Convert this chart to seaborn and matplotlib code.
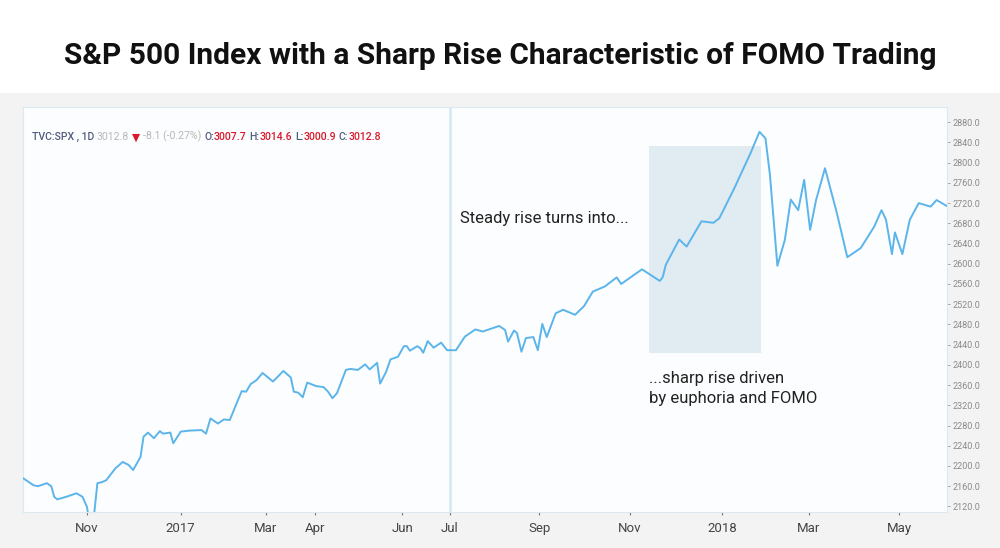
import matplotlib.pyplot as plt
import pandas as pd
import seaborn as sns
from matplotlib.patches import Rectangle

# daily close of the S&P 500 (smoothed line)
dates = [
    "2016-09-19", "2016-09-26", "2016-09-29", "2016-10-05", "2016-10-08", "2016-10-10",
    "2016-10-12", "2016-10-18", "2016-10-25", "2016-10-29", "2016-11-01", "2016-11-02",
    "2016-11-04", "2016-11-06", "2016-11-08", "2016-11-11", "2016-11-14", "2016-11-20",
    "2016-11-25", "2016-11-29", "2016-12-02", "2016-12-07", "2016-12-09", "2016-12-12",
    "2016-12-16", "2016-12-20", "2016-12-22", "2016-12-27", "2016-12-29", "2017-01-03",
    "2017-01-09", "2017-01-17", "2017-01-20", "2017-01-23", "2017-01-28", "2017-02-01",
    "2017-02-05", "2017-02-10", "2017-02-13", "2017-02-16", "2017-02-19", "2017-02-23",
    "2017-02-27", "2017-03-06", "2017-03-13", "2017-03-18", "2017-03-20", "2017-03-23",
    "2017-03-26", "2017-03-29", "2017-04-04", "2017-04-09", "2017-04-12", "2017-04-15",
    "2017-04-18", "2017-04-24", "2017-04-27", "2017-05-02", "2017-05-07", "2017-05-10",
    "2017-05-15", "2017-05-17", "2017-05-21", "2017-05-24", "2017-05-29", "2017-06-02",
    "2017-06-04", "2017-06-06", "2017-06-11", "2017-06-13", "2017-06-15", "2017-06-18",
    "2017-06-22", "2017-06-27", "2017-07-01", "2017-07-07", "2017-07-13", "2017-07-20",
    "2017-07-25", "2017-08-05", "2017-08-09", "2017-08-11", "2017-08-15", "2017-08-17",
    "2017-08-20", "2017-08-23", "2017-08-28", "2017-08-31", "2017-09-03", "2017-09-06",
    "2017-09-12", "2017-09-17", "2017-09-25", "2017-10-01", "2017-10-07", "2017-10-15",
    "2017-10-23", "2017-10-26", "2017-11-09", "2017-11-21", "2017-11-23", "2017-11-25",
    "2017-12-04", "2017-12-09", "2017-12-19", "2017-12-27", "2017-12-31", "2018-01-10",
    "2018-01-21", "2018-01-27", "2018-01-31", "2018-02-03", "2018-02-08", "2018-02-13",
    "2018-02-17", "2018-02-22", "2018-02-26", "2018-03-02", "2018-03-06", "2018-03-12",
    "2018-03-20", "2018-03-27", "2018-04-05", "2018-04-14", "2018-04-19", "2018-04-22",
    "2018-04-26", "2018-04-28", "2018-05-03", "2018-05-08", "2018-05-14", "2018-05-22",
    "2018-05-26", "2018-06-02",
]
closes = [
    2176, 2162, 2160, 2166, 2160, 2139,
    2134, 2139, 2146, 2139, 2119, 2100,
    2085, 2110, 2166, 2168, 2172, 2195,
    2208, 2202, 2192, 2218, 2258, 2266,
    2255, 2269, 2264, 2266, 2245, 2268,
    2270, 2271, 2264, 2294, 2284, 2292,
    2291, 2327, 2348, 2347, 2362, 2370,
    2384, 2367, 2388, 2375, 2347, 2345,
    2336, 2365, 2358, 2356, 2347, 2334,
    2344, 2390, 2392, 2390, 2401, 2391,
    2404, 2363, 2386, 2411, 2416, 2437,
    2437, 2428, 2437, 2433, 2424, 2447,
    2434, 2444, 2429, 2429, 2456, 2470,
    2466, 2477, 2469, 2446, 2468, 2463,
    2426, 2453, 2455, 2429, 2481, 2455,
    2502, 2509, 2499, 2516, 2545, 2555,
    2573, 2560, 2589, 2566, 2574, 2598,
    2648, 2634, 2684, 2681, 2690, 2749,
    2819, 2861, 2848, 2776, 2596, 2647,
    2727, 2706, 2766, 2667, 2726, 2789,
    2700, 2613, 2631, 2673, 2706, 2687,
    2619, 2662, 2619, 2687, 2720, 2713,
    2726, 2714,
]

tick_dates = ["2016-11-01", "2017-01-03", "2017-03-01", "2017-04-03", "2017-06-01", "2017-07-03",
              "2017-09-01", "2017-11-01", "2018-01-02", "2018-03-01", "2018-05-01"]
tick_labels = ["Nov", "2017", "Mar", "Apr", "Jun", "Jul", "Sep", "Nov", "2018", "Mar", "May"]
price_ticks = list(range(2120, 2881, 40))

# FOMO window (shaded box)
fomo_start, fomo_end = "2017-11-14", "2018-01-28"
fomo_low, fomo_high = 2423, 2832
crosshair_date = "2017-07-03"

df = pd.DataFrame({"date": pd.to_datetime(dates), "close": closes})

sns.set_style("white")
plt.rcParams["font.family"] = ["Roboto", "DejaVu Sans"]

fig = plt.figure(figsize=(10, 5.48), dpi=100, facecolor="white")
fig.patches.append(Rectangle((0, 0), 1, 0.83, transform=fig.transFigure,
                             facecolor="#f3f3f3", edgecolor="none", zorder=-10))
ax = fig.add_axes([0.023, 0.0657, 0.924, 0.739])
ax.set_facecolor("#fcfdfe")

# shaded FOMO box and crosshair
ax.fill_between(pd.to_datetime([fomo_start, fomo_end]), fomo_low, fomo_high,
                color="#e0ebf2", lw=0, zorder=1)
ax.axvline(pd.to_datetime(crosshair_date), color="#d5e7f2", lw=1.8, zorder=1)

sns.lineplot(data=df, x="date", y="close", ax=ax, color="#5cb5ea", lw=1.4,
             estimator=None, zorder=3, solid_joinstyle="round")

ax.set_xlim(pd.Timestamp("2016-09-19"), pd.Timestamp("2018-06-02"))
ax.set_ylim(2109, 2910)
ax.set_xlabel("")
ax.set_ylabel("")

ax.yaxis.tick_right()
ax.set_yticks(price_ticks)
ax.set_yticklabels([f"{v:.1f}" for v in price_ticks])
ax.tick_params(axis="y", right=True, left=False, length=2, width=0.6, color="#999",
               labelsize=6.5, labelcolor="#8a8a8a", pad=2)

ax.set_xticks(pd.to_datetime(tick_dates))
ax.set_xticklabels(tick_labels)
ax.tick_params(axis="x", bottom=True, length=2.5, width=0.8, color="#777",
               labelsize=9.5, labelcolor="#444", pad=5)

for s in ax.spines.values():
    s.set_color("#dde9f1")
    s.set_linewidth(0.8)

# annotations
ax.text(pd.Timestamp("2017-07-10"), 2689, "Steady rise turns into...",
        fontsize=12, color="#222", va="center", ha="left")
ax.text(pd.Timestamp(fomo_start), 2387, "...sharp rise driven\nby euphoria and FOMO",
        fontsize=12, color="#222", va="top", ha="left", linespacing=1.4)

# TradingView style header
slate, light, red = "#4f5d7c", "#b8b8b8", "#d7192b"
parts = [("TVC:SPX , 1D", slate), ("3012.8", light), ("▼", red), ("-8.1 (-0.27%)", light),
         ("O:", slate), ("3007.7", red), ("H:", slate), ("3014.6", red),
         ("L:", slate), ("3000.9", red), ("C:", slate), ("3012.8", red)]
gaps = [0, 2, 2, 2, 2, 0, 2, 0, 2, 0, 2, 0]
prev = None
for (s, c), g in zip(parts, gaps):
    weight = "medium" if c != light else "normal"
    if prev is None:
        prev = fig.text(0.032, 0.74, s, color=c, fontsize=7.6, va="bottom",
                        fontweight=weight)
    else:
        prev = ax.annotate(s, xy=(1, 0), xycoords=prev, xytext=(g, 0),
                           textcoords="offset points", color=c, fontsize=7.6,
                           va="bottom", ha="left", annotation_clip=False,
                           fontweight=weight)

fig.text(0.5, 0.898, "S&P 500 Index with a Sharp Rise Characteristic of FOMO Trading",
         ha="center", va="center", fontsize=21.5, fontweight="bold", color="#111")

fig.savefig("out.png", dpi=100)
